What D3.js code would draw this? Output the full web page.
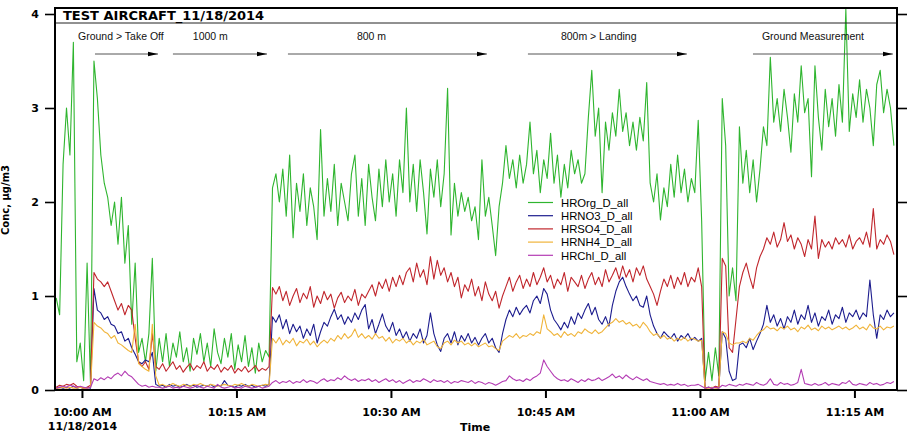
<!DOCTYPE html>
<html><head><meta charset="utf-8">
<script src="https://cdn.jsdelivr.net/npm/d3@7"></script>
<style>body{margin:0;background:#fff}svg{display:block}</style>
</head><body><svg id="c" width="915" height="435"></svg>
<script>
// ---- data ----
const seriesNames = ["HROrg_D_all","HRNO3_D_all","HRSO4_D_all","HRNH4_D_all","HRChl_D_all"];
const sampleDay = "2014-11-18";
const startTime = "09:57:30";
const stepSeconds = 20;

const hrOrg = [0.98,0.8,2.4,3.0,2.5,3.7,0.3,0.5,0.1,1.35,0.05,
 3.5,3.1,2.5,2.2,2.05,1.75,2.0,1.55,2.05,1.35,1.75,0.7,1.35,0.4,0.55,0.3,0.6,1.4,0.2,
 0.55,0.3,0.6,0.25,0.5,0.35,0.62,0.3,0.45,0.2,0.55,0.38,0.6,0.3,0.5,0.25,0.65,0.4,0.28,0.55,0.35,0.6,0.22,0.48,0.3,0.58,0.25,0.45,0.18,0.5,0.3,0.42,0.35,
 2.15,2.3,2.0,2.35,1.85,2.5,1.62,2.2,1.9,2.3,
 1.75,2.15,1.95,1.6,2.77,1.85,2.25,1.9,2.4,1.75,
 2.2,2.0,1.8,2.3,2.5,1.85,2.25,1.75,2.4,2.05,
 1.8,2.35,1.95,2.45,2.0,2.3,1.85,2.45,2.1,3.0,
 2.0,2.4,1.9,2.45,2.1,1.66,2.35,2.05,2.45,1.95,
 2.3,3.21,1.65,2.2,1.85,2.1,1.9,2.05,1.8,1.95,
 1.6,
 2.45,1.85,2.05,1.75,1.43,1.95,2.2,
 2.6,2.25,2.45,2.15,2.5,2.2,2.4,2.85,2.3,2.55,2.1,2.45,2.25,2.73,2.2,2.5,2.05,2.4,2.15,2.55,2.3,2.45,2.2,
 2.3,2.9,3.4,2.7,3.0,2.1,2.85,2.55,2.95,2.7,3.2,2.75,2.95,2.6,2.85,2.55,2.9,2.65,3.27,
 2.2,2.0,2.3,1.81,2.15,1.95,2.4,2.05,2.5,2.1,2.35,2.0,2.25,
 2.1,2.87,1.8,
 0.1,0.4,0.1,0.45,0.15,
 3.1,2.6,1.0,1.3,0.95,2.8,
 2.2,2.55,2.1,2.45,2.0,2.35,
 2.8,2.6,3.54,2.85,3.1,2.75,3.2,2.9,2.53,3.15,2.85,3.45,2.95,3.1,2.27,3.45,2.9,2.55,3.2,2.8,
 3.1,2.7,3.25,2.85,4.05,2.75,3.15,2.9,3.3,2.85,3.2,3.0,2.6,3.25,3.4,2.95,3.2,3.0,2.6];

const hrNO3 = [0.02,0.03,0.02,0.03,0.02,0.04,0.02,0.03,0.02,0.03,0.02,
 1.08,0.85,0.82,0.75,0.78,0.7,0.68,0.6,0.62,0.52,0.55,0.45,0.38,0.3,0.28,0.32,0.3,0.4,0.06,
 0.04,0.05,0.03,0.06,0.04,0.05,0.03,0.04,0.06,0.04,0.05,0.03,0.04,0.05,0.04,0.06,0.03,0.05,0.04,0.1,0.05,0.04,0.03,0.05,0.04,0.06,0.04,0.05,0.03,0.04,0.05,0.04,0.06,
 0.78,0.72,0.8,0.65,0.75,0.6,0.7,0.62,0.68,0.55,0.65,0.58,0.7,0.5,0.62,0.72,0.68,0.78,0.86,0.75,0.8,0.7,0.78,0.72,0.82,0.75,0.85,0.91,
 0.65,0.75,0.6,0.7,0.81,0.68,0.62,0.72,0.58,0.65,0.55,0.62,0.52,0.6,0.55,0.65,0.5,0.58,0.82,0.6,0.48,0.41,0.55,0.6,0.5,0.62,0.48,0.58,0.52,0.6,0.5,0.56,0.48,
 0.55,0.6,0.5,0.55,0.45,0.4,0.6,
 0.75,0.85,0.78,0.88,0.8,0.86,0.9,0.82,0.95,1.0,0.92,1.08,1.02,
 0.85,0.75,0.7,0.64,0.72,0.66,0.78,0.7,0.82,0.76,
 0.85,0.92,0.8,0.88,0.75,0.7,0.78,0.68,
 0.9,1.05,1.15,1.2,1.1,1.02,0.95,1.0,0.9,0.88,1.0,
 0.8,0.68,0.6,0.55,0.62,0.58,0.55,0.6,0.52,0.58,0.55,0.6,0.53,
 0.56,0.52,0.55,
 0.02,0.03,0.02,0.03,0.02,
 0.62,0.55,0.2,0.1,0.12,0.48,
 0.5,0.45,0.55,0.43,0.52,0.6,
 0.7,0.9,0.72,0.8,0.68,0.76,0.65,0.78,0.72,0.85,0.7,0.8,0.75,0.9,0.72,0.82,0.68,0.78,0.74,0.85,
 0.7,0.8,0.76,0.88,0.72,0.82,0.78,0.85,0.75,0.82,0.78,1.17,0.8,0.55,0.8,0.75,0.85,0.78,0.82];

const hrSO4 = [0.03,0.05,0.04,0.06,0.05,0.07,0.04,0.03,0.02,0.03,0.05,
 1.25,1.18,1.15,1.1,1.15,1.05,0.95,0.85,0.92,0.8,0.9,0.85,0.55,0.3,0.25,0.3,0.22,0.6,0.25,
 0.22,0.28,0.2,0.25,0.3,0.22,0.26,0.19,0.24,0.28,0.21,0.26,0.23,0.3,0.2,0.25,0.22,0.27,0.19,0.24,0.21,0.26,0.18,0.23,0.2,0.25,0.19,0.22,0.26,0.2,0.23,0.21,0.25,
 1.09,1.02,1.1,0.95,1.05,0.9,1.0,1.08,0.93,1.03,0.97,1.1,0.88,1.0,0.92,1.05,0.96,1.02,0.87,0.98,1.04,0.93,1.0,0.95,1.07,0.9,1.02,0.98,
 1.05,1.12,1.0,1.15,1.08,1.18,1.05,1.2,1.1,1.22,1.12,1.25,
 1.3,1.15,1.35,1.2,1.28,1.12,1.42,1.18,1.38,1.22,1.3,1.15,1.25,
 1.1,1.2,0.98,1.12,1.05,1.18,1.0,1.1,0.95,1.15,1.02,0.95,1.05,
 0.87,1.0,
 1.1,1.2,1.05,1.15,1.22,1.08,1.18,1.1,1.25,1.12,1.2,1.3,1.15,
 1.22,1.08,1.18,1.12,1.25,1.05,1.2,1.15,1.1,1.22,1.08,1.18,1.25,
 1.12,1.2,1.1,1.28,1.15,1.22,1.3,1.18,1.32,1.2,1.28,1.15,1.3,1.22,1.32,1.18,
 1.1,1.02,0.9,1.05,1.18,1.1,1.22,1.08,1.2,1.12,1.25,1.1,1.2,
 1.15,1.3,1.1,
 0.02,0.03,0.02,0.04,0.03,
 1.4,1.32,0.45,0.4,0.75,1.1,
 1.25,1.35,1.2,1.08,1.3,1.42,
 1.5,1.62,1.55,1.68,1.52,1.6,1.78,1.58,1.65,1.5,1.62,1.55,1.42,1.6,1.5,1.85,1.4,1.6,1.52,1.58,
 1.5,1.62,1.55,1.6,1.52,1.65,1.5,1.58,1.62,1.55,1.68,1.52,1.93,1.5,1.6,1.55,1.65,1.58,1.44];

const hrNH4 = [0.02,0.02,0.03,0.02,0.03,0.02,0.02,0.03,0.02,0.02,0.03,
 0.72,0.68,0.66,0.62,0.6,0.55,0.58,0.5,0.48,0.45,0.42,0.4,0.7,0.28,0.25,0.22,0.2,0.7,0.15,
 0.05,0.06,0.04,0.05,0.07,0.05,0.04,0.06,0.05,0.04,0.06,0.05,0.07,0.05,0.04,0.06,0.05,0.04,0.05,0.06,0.05,0.04,0.06,0.05,0.07,0.05,0.04,0.06,0.05,0.04,0.05,0.06,0.05,
 0.55,0.5,0.56,0.48,0.53,0.5,0.55,0.47,0.52,0.5,0.54,0.48,0.52,0.46,0.5,0.53,0.5,0.55,0.52,0.58,0.54,0.6,0.55,0.58,0.65,0.56,0.6,0.55,
 0.58,0.54,0.6,0.55,0.57,0.52,0.56,0.5,0.54,0.52,0.55,0.5,0.53,0.48,0.52,0.5,0.54,0.48,0.5,0.52,0.46,0.44,0.5,0.52,0.48,0.53,0.5,0.52,0.48,0.5,0.47,0.5,0.46,
 0.48,0.5,0.46,0.47,0.44,0.42,0.52,
 0.55,0.58,0.56,0.6,0.55,0.58,0.57,0.6,0.58,0.62,0.6,0.8,0.65,
 0.62,0.58,0.6,0.56,0.62,0.58,0.6,0.57,0.62,0.6,0.65,0.62,0.6,
 0.64,0.6,0.62,0.66,0.7,0.72,0.76,0.72,0.74,0.7,0.72,0.68,0.7,0.66,0.72,0.68,
 0.62,0.58,0.6,0.55,0.58,0.54,0.56,0.52,0.55,0.53,0.56,0.52,0.55,
 0.54,0.52,0.53,
 0.02,0.02,0.03,0.02,0.02,
 0.62,0.6,0.5,0.48,0.5,0.5,
 0.52,0.5,0.55,0.53,0.58,0.62,
 0.64,0.68,0.65,0.66,0.63,0.67,0.65,0.68,0.64,0.66,0.62,0.67,0.65,0.69,0.64,0.66,0.63,0.68,0.65,0.67,
 0.64,0.66,0.68,0.65,0.67,0.64,0.66,0.69,0.65,0.67,0.64,0.7,0.66,0.65,0.68,0.64,0.67,0.66,0.68];

const hrChl = [0.02,0.03,0.04,0.03,0.05,0.04,0.03,0.04,0.03,0.02,0.03,
 0.12,0.1,0.13,0.11,0.14,0.12,0.16,0.18,0.15,0.2,0.16,0.14,0.1,0.06,0.04,0.05,0.03,0.04,0.03,
 0.03,0.02,0.03,0.04,0.02,0.03,0.02,0.04,0.03,0.02,0.03,0.05,0.03,0.02,0.04,0.03,0.02,0.06,0.03,0.02,0.03,0.04,0.02,0.03,0.02,0.04,0.03,0.02,0.03,0.04,0.02,0.03,0.04,
 0.08,0.1,0.07,0.09,0.08,0.1,0.07,0.09,0.08,0.11,0.08,0.1,0.09,0.07,0.1,0.12,0.09,0.11,0.1,0.13,0.11,0.15,0.12,0.1,0.12,0.09,0.11,0.1,
 0.12,0.09,0.11,0.08,0.1,0.12,0.09,0.11,0.08,0.1,0.07,0.09,0.11,0.08,0.1,0.09,0.12,0.1,0.08,0.11,0.09,0.1,0.08,0.1,0.07,0.09,0.08,0.1,0.09,0.08,0.1,0.07,0.09,
 0.08,0.06,0.08,0.07,0.05,0.07,0.09,
 0.1,0.15,0.12,0.1,0.11,0.09,0.12,0.1,0.13,0.15,0.18,0.32,0.25,
 0.2,0.15,0.12,0.1,0.11,0.09,0.12,0.1,0.08,0.11,0.09,0.12,0.1,
 0.11,0.13,0.1,0.12,0.14,0.17,0.13,0.15,0.12,0.16,0.13,0.11,0.14,0.12,0.1,0.12,
 0.09,0.08,0.07,0.06,0.07,0.05,0.06,0.05,0.07,0.05,0.06,0.04,0.05,
 0.05,0.06,0.04,
 0.02,0.03,0.02,0.03,0.02,
 0.05,0.04,0.06,0.05,0.04,0.06,
 0.05,0.07,0.06,0.05,0.08,0.06,
 0.05,0.07,0.12,0.06,0.05,0.08,0.06,0.07,0.05,0.06,0.08,0.22,0.07,0.06,0.05,0.07,0.05,0.06,0.08,0.05,
 0.07,0.06,0.05,0.08,0.07,0.1,0.06,0.05,0.07,0.06,0.05,0.08,0.06,0.07,0.05,0.06,0.08,0.07,0.09];

const yTicks = [0,1,2,3,4];
const xTickTimes = ["10:00:00","10:15:00","10:30:00","10:45:00","11:00:00","11:15:00"];
const xDomainTimes = ["09:57:23","11:19:08"];
const phaseLabels = ["Ground > Take Off","1000 m","800 m","800m > Landing","Ground Measurement"];
const phaseLabelTimes = ["09:59:37","10:10:46","10:26:42","10:46:30","11:06:01"];
const phaseArrowStart = ["10:01:16","10:08:50","10:20:00","10:43:18","11:05:09"];
const phaseArrowEnd = ["10:07:23","10:17:58","10:39:19","10:58:44","11:18:44"];
const chartTitle = "TEST AIRCRAFT_11/18/2014";
const xTitle = "Time";
const yTitle = "Conc, \u00b5g/m3";

// ---- drawing ----
const colors = ["#2fb52f","#1c1c8e","#c0262c","#f0b43a","#b43cb4"];
const seriesData = [hrOrg,hrNO3,hrSO4,hrNH4,hrChl];
const parse = d3.timeParse("%Y-%m-%d %H:%M:%S");
const T = s => parse(sampleDay+" "+s);
const L = 55, R = 897, TOP = 8, B = 390;
const x = d3.scaleTime().domain(xDomainTimes.map(T)).range([L,R]);
const y = d3.scaleLinear().domain([0,4]).range([B,14]);
const t0 = T(startTime);
const timeAt = i => new Date(t0.getTime()+i*stepSeconds*1000);

const svg = d3.select("#c");
svg.append("rect").attr("width",915).attr("height",435).attr("fill","#fff");
svg.append("defs").append("clipPath").attr("id","clip")
  .append("rect").attr("x",L).attr("y",TOP).attr("width",R-L).attr("height",B-TOP);
svg.select("defs").append("marker").attr("id","ah").attr("viewBox","0 0 10 6")
  .attr("refX",10).attr("refY",3).attr("markerWidth",10).attr("markerHeight",6)
  .attr("markerUnits","userSpaceOnUse").attr("orient","auto")
  .append("path").attr("d","M0,0.8L10,3L0,5.2Z").attr("fill","#000");

const plot = svg.append("g").attr("clip-path","url(#clip)");
const line = d3.line().x((d,i)=>x(timeAt(i))).y(d=>y(d));
seriesData.forEach((s,k)=>{
  plot.append("path").datum(s).attr("d",line).attr("fill","none")
    .attr("stroke",colors[k]).attr("stroke-width",1.1).attr("stroke-linejoin","round");
});

const bold = "'DejaVu Sans', sans-serif";
const reg = "'Liberation Sans', Arial, sans-serif";

// frame
svg.append("line").attr("x1",L-1).attr("x2",R+1).attr("y1",TOP).attr("y2",TOP).attr("stroke","#000").attr("stroke-width",2);
svg.append("line").attr("x1",L).attr("x2",R).attr("y1",23).attr("y2",23).attr("stroke","#222").attr("stroke-width",1);
svg.append("line").attr("x1",L).attr("x2",L).attr("y1",TOP-1).attr("y2",B+1).attr("stroke","#000").attr("stroke-width",2);
svg.append("line").attr("x1",R).attr("x2",R).attr("y1",TOP-1).attr("y2",B+1).attr("stroke","#000").attr("stroke-width",2);
svg.append("line").attr("x1",L).attr("x2",R).attr("y1",B).attr("y2",B).attr("stroke","#000").attr("stroke-width",2);

// axes
const yAx = svg.append("g").attr("transform",`translate(${L},0)`)
  .call(d3.axisLeft(y).tickValues(yTicks).tickSize(10).tickPadding(6).tickFormat(d3.format("d")));
yAx.select(".domain").remove();
yAx.selectAll(".tick line").attr("stroke","#000").attr("stroke-width",1.6);
yAx.selectAll(".tick text").attr("font-family",bold).attr("font-weight","bold").attr("font-size",11).attr("fill","#000");

const yAxR = svg.append("g").attr("transform",`translate(${R},0)`)
  .call(d3.axisRight(y).tickValues(yTicks).tickSize(10).tickFormat(""));
yAxR.select(".domain").remove();
yAxR.selectAll(".tick line").attr("stroke","#000").attr("stroke-width",1.6);

const fmt = d3.timeFormat("%-I:%M %p");
const xAx = svg.append("g").attr("transform",`translate(0,${B})`)
  .call(d3.axisBottom(x).tickValues(xTickTimes.map(T)).tickSize(8).tickPadding(10).tickFormat(fmt));
xAx.select(".domain").remove();
xAx.selectAll(".tick line").attr("stroke","#000").attr("stroke-width",2);
xAx.selectAll(".tick text").attr("font-family",bold).attr("font-weight","bold").attr("font-size",11).attr("fill","#000");
xAx.select(".tick text").append("tspan").attr("x",0).attr("dy","1.3em")
  .text(d3.timeFormat("%m/%d/%Y")(T(xTickTimes[0])));

// titles
svg.append("text").attr("x",63).attr("y",20).text(chartTitle)
  .attr("font-family",bold).attr("font-weight","bold").attr("font-size",13).attr("fill","#000");
svg.append("text").attr("x",460).attr("y",431).text(xTitle)
  .attr("font-family",bold).attr("font-weight","bold").attr("font-size",11).attr("fill","#000");
svg.append("text").attr("transform","translate(9,200) rotate(-90)").attr("text-anchor","middle").text(yTitle)
  .attr("font-family",bold).attr("font-weight","bold").attr("font-size",10).attr("fill","#000");

// phase annotations
phaseLabels.forEach((lab,k)=>{
  svg.append("text").attr("x",x(T(phaseLabelTimes[k]))).attr("y",40).text(lab)
    .attr("font-family",reg).attr("font-size",10.5).attr("fill","#111");
  svg.append("line").attr("x1",x(T(phaseArrowStart[k]))).attr("x2",x(T(phaseArrowEnd[k])))
    .attr("y1",54).attr("y2",54).attr("stroke","#555").attr("stroke-width",1)
    .attr("marker-end","url(#ah)");
});

// legend
const lg = svg.append("g").attr("transform","translate(528,202.5)");
seriesNames.forEach((n,k)=>{
  const yy = k*13.2;
  lg.append("line").attr("x1",0).attr("x2",25).attr("y1",yy).attr("y2",yy).attr("stroke",colors[k]).attr("stroke-width",1.2);
  lg.append("text").attr("x",33).attr("y",yy+4.2).text(n)
    .attr("font-family",reg).attr("font-size",11.3).attr("fill","#000");
});
</script></body></html>
